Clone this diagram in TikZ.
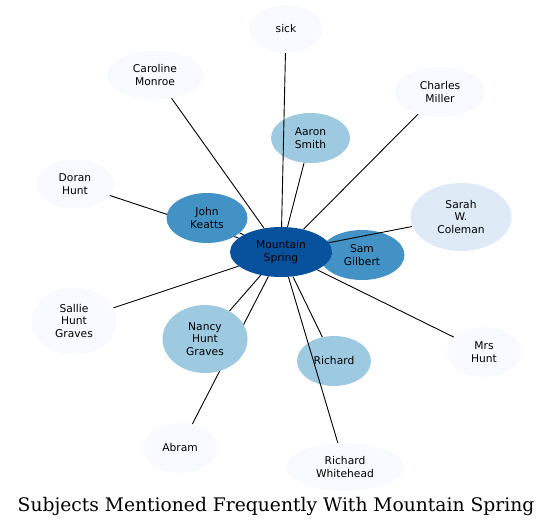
\documentclass[tikz,border=0pt]{standalone}
\usepackage{fontspec}
\setmainfont{DejaVu Sans}
\newfontfamily\titlefont{DejaVu Serif}
\usepackage{tikz}
\usetikzlibrary{shapes.geometric,backgrounds}
\definecolor{msdark}{HTML}{08519C}
\definecolor{msmid}{HTML}{4292C6}
\definecolor{mslight}{HTML}{9ECAE1}
\definecolor{mspale}{HTML}{DEEBF7}
\definecolor{msfaint}{HTML}{F7FBFF}

\begin{document}
\begin{tikzpicture}[x=1pt, y=-1pt,
  subj/.style={ellipse, draw=none, inner sep=0pt, align=center,
               font=\fontsize{10.7}{12.5}\selectfont},
  hub/.style={subj, fill=msdark, minimum width=102pt, minimum height=50pt},
  strong/.style={subj, fill=msmid},
  medium/.style={subj, fill=mslight},
  weak/.style={subj, fill=mspale},
  faint/.style={subj, fill=msfaint},
  link/.style={line width=0.9pt}
]
\useasboundingbox (0,0) rectangle (552,528);

% nodes lying under the connectors
\begin{pgfonlayer}{background}
\node[medium, minimum width=79pt, minimum height=50pt] (aaron) at (310.5,138) {Aaron\\Smith};
\node[strong, minimum width=85pt, minimum height=50pt] (sam) at (362,255) {Sam\\Gilbert};
\node[medium, minimum width=74pt, minimum height=50pt] (richard) at (334,361) {Richard};
\end{pgfonlayer}

\node[hub] (spring) at (281,252) {Mountain\\Spring};
\node[strong, minimum width=81pt, minimum height=50pt] (keatts) at (207,218) {John\\Keatts};
\node[medium, minimum width=85pt, minimum height=68pt] (nancy) at (205,339) {Nancy\\Hunt\\Graves};
\node[weak, minimum width=101pt, minimum height=68pt] (sarah) at (461,217) {Sarah\\W.\\Coleman};
\node[faint, minimum width=73pt, minimum height=48pt] (sick) at (286,29) {sick};
\node[faint, minimum width=96pt, minimum height=49pt] (caroline) at (155,75) {Caroline\\Monroe};
\node[faint, minimum width=90pt, minimum height=50pt] (charles) at (440,92) {Charles\\Miller};
\node[faint, minimum width=78pt, minimum height=49pt] (doran) at (75,184) {Doran\\Hunt};
\node[faint, minimum width=85pt, minimum height=67pt] (sallie) at (74,321) {Sallie\\Hunt\\Graves};
\node[faint, minimum width=74pt, minimum height=50pt] (mrshunt) at (484,352) {Mrs\\Hunt};
\node[faint, minimum width=74pt, minimum height=50pt] (abram) at (180,448) {Abram};
\node[faint, minimum width=117pt, minimum height=48pt] (whitehead) at (345,467) {Richard\\Whitehead};

\node[font=\titlefont\fontsize{18.7}{22}\selectfont] (title) at (276,506)
  {Subjects Mentioned Frequently With Mountain Spring};

% connectors from the hub
\begin{pgfonlayer}{background}
\foreach \other in {sick,caroline,charles,aaron,doran,keatts,sarah,sam,
                    sallie,nancy,richard,mrshunt,abram,whitehead}
  \draw[link] (spring) -- (\other);
\end{pgfonlayer}
\end{tikzpicture}
\end{document}
